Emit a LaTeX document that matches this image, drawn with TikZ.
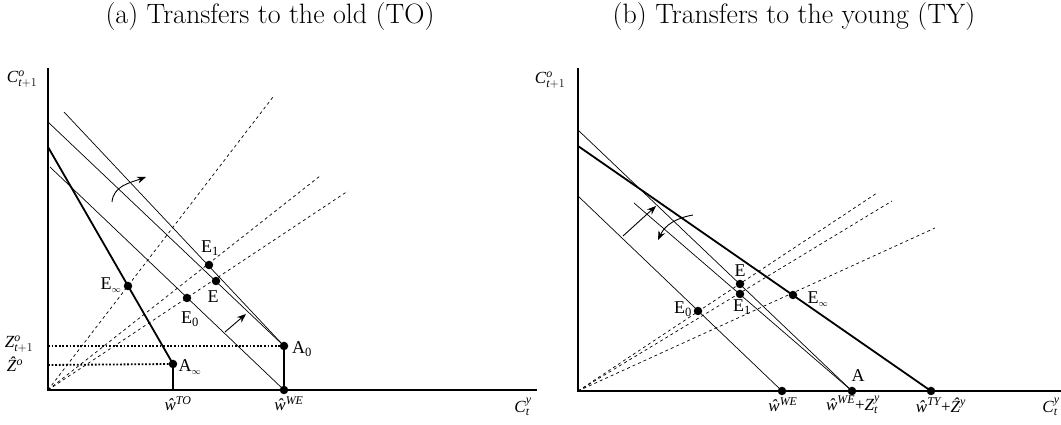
\documentclass[tikz,border=0pt]{standalone}
\usepackage{amsmath}
\usepackage{fontspec}
\newfontfamily\tms{Liberation Serif}
\usetikzlibrary{arrows.meta}
\newcommand{\wh}{\textit{\^w}}
\newcommand{\tinf}{$_{\scriptscriptstyle\infty}$}
\tikzset{
  axis/.style={line width=1.1pt},
  thinl/.style={line width=0.7pt},
  thickl/.style={line width=1.8pt},
  ray/.style={line width=0.7pt, dash pattern=on 3pt off 3pt},
  dotl/.style={line width=1.8pt, dash pattern=on 1.8pt off 1.8pt},
  dot/.style={circle, fill=black, inner sep=0pt, minimum size=8.5pt},
  lab/.style={font=\fontsize{18}{20}\selectfont\tms, inner sep=0pt},
  alab/.style={font=\fontsize{17}{19}\selectfont\tms, inner sep=0pt},
  ttl/.style={font=\fontsize{28}{34}\selectfont},
  arr/.style={line width=0.9pt, -{Stealth[length=9pt,width=7pt]}},
}
\begin{document}
\begin{tikzpicture}[x=1pt,y=1pt]
\useasboundingbox (0,0) rectangle (1061,425);
% ---------- titles
\node[ttl] (ta) at (270,408) {(a) Transfers to the old (TO)};
\node[ttl] (tb) at (794,408) {(b) Transfers to the young (TY)};
% ================= panel (a)
\coordinate (O1) at (48,35);
\coordinate (Y1) at (48,357);
\coordinate (X1) at (537,35);
\draw[axis] (Y1) -- (O1) -- (X1);
\coordinate (L1s) at (64,313);
\coordinate (L2s) at (48,303);
\coordinate (L3s) at (50,258);
\coordinate (Ts) at (48,278);
\coordinate (R1) at (273,328);
\coordinate (R2) at (320,249);
\coordinate (R3) at (348,234);
\coordinate (Z1) at (48,79);
\coordinate (Z2) at (48,60);
\coordinate (B1) at (173,35);
\draw[ray] (O1) -- (R1);
\draw[ray] (O1) -- (R2);
\draw[ray] (O1) -- (R3);
\node[dot] (A0) at (284,79) {};
\node[dot] (Ainf) at (173,61) {};
\node[dot] (W1) at (284,35) {};
\node[dot] (Ea1) at (209,160) {};
\node[dot] (Ea) at (216,144) {};
\node[dot] (Eainf) at (128,139) {};
\node[dot] (Ea0) at (187,127) {};
\draw[thinl] (L1s) -- (A0.center);
\draw[thinl] (L2s) -- (A0.center);
\draw[thinl] (L3s) -- (W1.center);
\draw[thickl] (Ts) -- (Ainf.center) -- (B1);
\draw[thickl] (A0.center) -- (W1.center);
\draw[dotl] (Z1) -- (A0.center);
\draw[dotl] (Z2) -- (Ainf.center);
\coordinate (ca1) at (112,223);
\coordinate (ca2) at (146,248);
\draw[arr] (ca1) to[out=85,in=200] (ca2);
\coordinate (sa1) at (225,93);
\coordinate (sa2) at (246,111);
\draw[arr] (sa1) -- (sa2);
% labels (a)
\node[alab] (lCo1) at (22,346) {\textit{C}$^{\text{\itshape o}}_{\text{\itshape t}+1}$};
\node[alab] (lZ1) at (19,81) {\textit{Z}$^{\text{\itshape o}}_{\text{\itshape t}+1}$};
\node[alab] (lZh1) at (15,61) {\textit{\^Z}$^{\text{\itshape o}}$};
\node[alab] (lwto) at (178,21) {\wh$^{\text{\itshape TO}}$};
\node[alab] (lwwe1) at (289,21) {\wh$^{\text{\itshape WE}}$};
\node[alab] (lCy1) at (523,18) {\textit{C}$^{\text{\itshape y}}_{\text{\itshape t}}$};
\node[lab] (lEa1) at (210,177) {E$_{\text{1}}$};
\node[lab] (lEa) at (213,128) {E};
\node[lab] (lEainf) at (111,140) {E\tinf};
\node[lab] (lEa0) at (190,106) {E$_{\text{0}}$};
\node[lab] (lA0) at (302,76) {A$_{\text{0}}$};
\node[lab] (lAinf) at (190,58) {A\tinf};
% ================= panel (b)
\coordinate (O2) at (578,34);
\coordinate (Y2) at (578,357);
\coordinate (X2) at (1061,34);
\draw[axis] (Y2) -- (O2) -- (X2);
\coordinate (Las) at (578,295);
\coordinate (Tbs) at (578,279);
\coordinate (Lbs) at (634,222);
\coordinate (Lcs) at (578,229);
\coordinate (S1) at (877,232);
\coordinate (S2) at (892,224);
\coordinate (S3) at (935,197);
\draw[ray] (O2) -- (S1);
\draw[ray] (O2) -- (S2);
\draw[ray] (O2) -- (S3);
\node[dot] (A) at (852,34) {};
\node[dot] (W2) at (782,34) {};
\node[dot] (W3) at (931,34) {};
\node[dot] (Eb) at (740,141) {};
\node[dot] (Eb1) at (740,131) {};
\node[dot] (Ebinf) at (793,130) {};
\node[dot] (Eb0) at (698,114) {};
\draw[thinl] (Las) -- (A.center);
\draw[thinl] (Lbs) -- (A.center);
\draw[thinl] (Lcs) -- (W2.center);
\draw[thickl] (Tbs) -- (W3.center);
\coordinate (sb1) at (623,189);
\coordinate (sb2) at (656,219);
\draw[arr] (sb1) -- (sb2);
\coordinate (cb1) at (693,210);
\coordinate (cb2) at (658,185);
\draw[arr] (cb1) to[out=190,in=65] (cb2);
% labels (b)
\node[alab] (lCo2) at (550,345) {\textit{C}$^{\text{\itshape o}}_{\text{\itshape t}+1}$};
\node[lab] (lEb0) at (683,116) {E$_{\text{0}}$};
\node[lab] (lEb) at (740,154) {E};
\node[lab] (lEb1) at (742,118) {E$_{\text{1}}$};
\node[lab] (lEbinf) at (818,126) {E\tinf};
\node[lab] (lA) at (858,49) {A};
\node[alab] (lwwe2) at (783,20) {\wh$^{\text{\itshape WE}}$};
\node[alab] (lwz) at (853,20) {\wh$^{\text{\itshape WE}}$+\textit{Z}$^{\text{\itshape y}}_{\text{\itshape t}}$};
\node[alab] (lwty) at (941,20) {\wh$^{\text{\itshape TY}}$+\textit{\^Z}$^{\text{\itshape y}}$};
\node[alab] (lCy2) at (1051,18) {\textit{C}$^{\text{\itshape y}}_{\text{\itshape t}}$};
\end{tikzpicture}
\end{document}
